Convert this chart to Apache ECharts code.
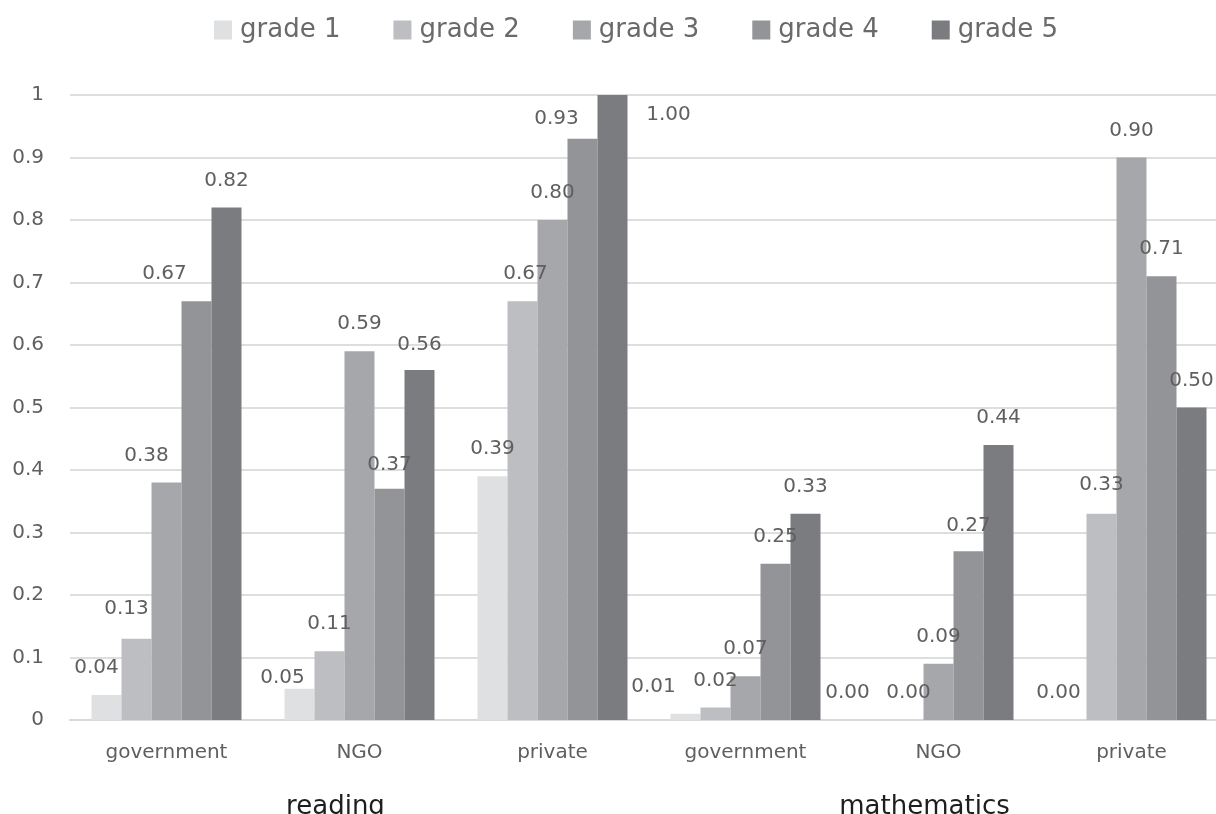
<!DOCTYPE html>
<html>
<head>
<meta charset="utf-8">
<title>Share of pupils by grade, school type and subject</title>
<script src="https://cdn.jsdelivr.net/npm/echarts@6/dist/echarts.min.js"></script>
<style>
  html, body { margin: 0; padding: 0; background: #ffffff; }
  #chart { width: 1216px; height: 814px; }
</style>
</head>
<body>
<div id="chart"></div>
<script>
// School types, repeated for each subject
const categories = ['government', 'NGO', 'private', 'government', 'NGO', 'private'];
// Subject groups shown beneath the school types
const subjects = ['reading', 'mathematics'];
const gradeNames = ['grade 1', 'grade 2', 'grade 3', 'grade 4', 'grade 5'];

// Values per grade, in category order (reading: gov, NGO, private; mathematics: gov, NGO, private)
const grade1 = [0.04, 0.05, 0.39, 0.01, 0.00, 0.00];
const grade2 = [0.13, 0.11, 0.67, 0.02, 0.00, 0.33];
const grade3 = [0.38, 0.59, 0.80, 0.07, 0.09, 0.90];
const grade4 = [0.67, 0.37, 0.93, 0.25, 0.27, 0.71];
const grade5 = [0.82, 0.56, 1.00, 0.33, 0.44, 0.50];

const yTicks = { min: 0, max: 1, interval: 0.1 };

// Bar fills, light to dark
const palette = ['#dfe0e2', '#bdbec1', '#a6a7aa', '#939497', '#7b7c80'];

// Hand-placed nudges [dx, dy] for value labels that would otherwise collide
const labelNudge = [
  [[-10, 0], [-17, 16], [0, 0], [-32, 0], [-31, 0], [-13, 0]],
  [[-10, -3], [0, 0], [3, 0], [0, 0], [0, 0], [0, -2]],
  [[-20, 0], [0, 0], [0, 0], [0, 0], [0, 0], [0, 0]],
  [[-32, 0], [0, 3], [-26, 7], [0, 0], [0, 2], [0, 0]],
  [[0, 0], [0, 2], [56, 47], [0, 0], [0, 0], [0, 0]]
];

const seriesValues = [grade1, grade2, grade3, grade4, grade5];
const FONT = 'DejaVu Sans';
const GRAY = '#5f5f5f';

const chart = echarts.init(document.getElementById('chart'), null, { renderer: 'canvas' });

const series = seriesValues.map((vals, s) => ({
  name: gradeNames[s],
  type: 'bar',
  xAxisIndex: 0,
  yAxisIndex: 0,
  barWidth: 30,
  barGap: '0%',
  itemStyle: { color: palette[s] },
  label: {
    show: true,
    position: 'top',
    distance: 17,
    fontFamily: FONT,
    fontSize: 20,
    color: GRAY,
    formatter: p => p.value.toFixed(2)
  },
  data: vals.map((v, i) => ({
    value: v,
    label: { offset: labelNudge[s][i] }
  }))
}));

chart.setOption({
  animation: false,
  backgroundColor: '#ffffff',
  color: palette,
  legend: {
    data: gradeNames,
    left: 209,
    top: 12,
    itemWidth: 18,
    itemHeight: 19,
    itemGap: 53,
    icon: 'rect',
    textStyle: { fontFamily: FONT, fontSize: 26, color: '#6a6a6a', padding: [0, 0, 0, 3] }
  },
  grid: {
    left: 70, right: -12, top: 95, bottom: 94,
    containLabel: false,
    outerBoundsMode: 'none'
  },
  xAxis: [
    {
      type: 'category',
      data: categories,
      axisLine: { show: true, lineStyle: { color: '#d9d9d9', width: 2 } },
      axisTick: { show: false },
      axisLabel: { fontFamily: FONT, fontSize: 20, color: GRAY, margin: 23, interval: 0 },
      splitLine: { show: false }
    },
    {
      type: 'category',
      data: subjects,
      position: 'bottom',
      axisLine: { show: false },
      axisTick: { show: false },
      axisLabel: {
        margin: 74,
        interval: 0,
        formatter: v => (v === subjects[0] ? '{r|' + v + '}' : '{m|' + v + '}'),
        rich: {
          r: { fontFamily: FONT, fontSize: 26, color: '#1e1e1e', padding: [0, 48, 0, 0] },
          m: { fontFamily: FONT, fontSize: 26, color: '#1e1e1e', padding: [0, 28, 0, 0] }
        }
      },
      splitLine: { show: false }
    }
  ],
  yAxis: {
    type: 'value',
    min: yTicks.min,
    max: yTicks.max,
    interval: yTicks.interval,
    axisLine: { show: false },
    axisTick: { show: false },
    axisLabel: {
      fontFamily: FONT, fontSize: 20, color: GRAY, margin: 26,
      formatter: v => String(Math.round(v * 10) / 10)
    },
    splitLine: { lineStyle: { color: '#dedede', width: 2 } }
  },
  series: series
});
</script>
</body>
</html>
